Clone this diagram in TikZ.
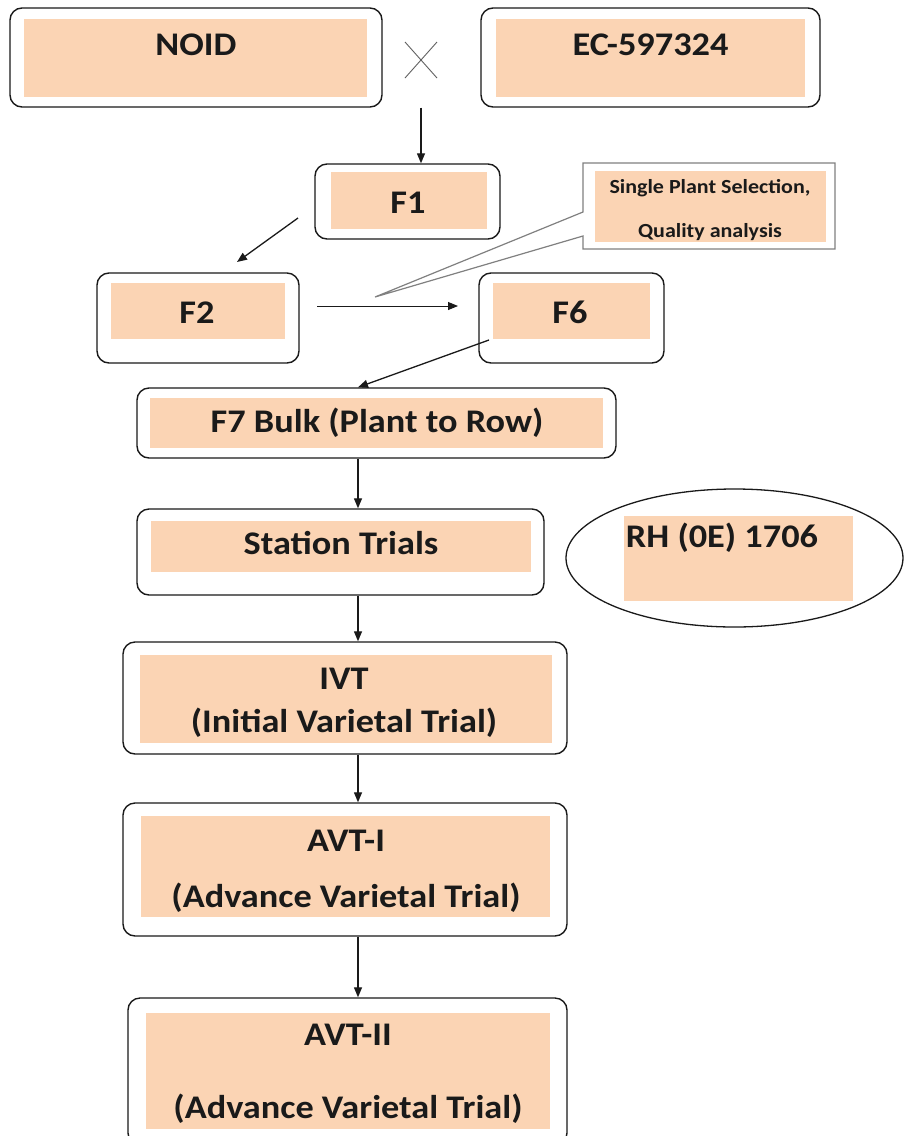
\documentclass[tikz,border=0pt]{standalone}
\usepackage{fontspec}
\setmainfont[FakeStretch=1.1]{Carlito}
\usetikzlibrary{arrows.meta,shapes.geometric}
\definecolor{peach}{HTML}{FBD4B4}
\definecolor{ink}{HTML}{1A1A1A}
\definecolor{callgray}{HTML}{808080}
\begin{document}
\begin{tikzpicture}[x=1pt,y=-1pt,
  outerbox/.style={draw=ink,line width=1.4pt,rounded corners=12pt,fill=white,inner sep=0pt},
  fillbox/.style={fill=peach,inner sep=0pt},
  lbl/.style={font=\bfseries\fontsize{33}{40}\selectfont,text=ink,inner sep=0pt,anchor=base},
  smalllbl/.style={font=\bfseries\fontsize{20}{24}\selectfont,text=ink,inner sep=0pt,anchor=base},
  arr/.style={draw=ink,line width=1.3pt,-{Triangle[length=10pt,width=8pt]}},
]
\fill[white] (0,0) rectangle (903,1136);
\useasboundingbox (0,0) rectangle (903,1136);

% parents
\node[outerbox,minimum width=372,minimum height=99] (noid) at (196,57.5) {};
\node[fillbox,minimum width=343,minimum height=78] (noidf) at (195.5,58) {};
\node[lbl] (noidt) at (196,55) {NOID};

\node[outerbox,minimum width=339,minimum height=99] (ec) at (650.5,57.5) {};
\node[fillbox,minimum width=309,minimum height=78] (ecf) at (650.5,58) {};
\node[lbl] (ect) at (650.5,55) {EC-597324};

% cross
\coordinate (cross) at (421,60);
\draw[ink!70,line width=0.9pt] (405,42) -- (437,78) (437,42) -- (405,78);

% F1
\node[outerbox,minimum width=185,minimum height=75] (f1) at (407.5,201.5) {};
\node[fillbox,minimum width=156,minimum height=57] (f1f) at (409,200.5) {};
\node[lbl] (f1t) at (408,213) {F1};

% F2
\node[outerbox,minimum width=202,minimum height=90] (f2) at (198,318) {};
\node[fillbox,minimum width=174,minimum height=56] (f2f) at (198,311) {};
\node[lbl] (f2t) at (197,323) {F2};

% F6
\node[outerbox,minimum width=185,minimum height=90] (f6) at (571.5,318) {};
\node[fillbox,minimum width=157,minimum height=56] (f6f) at (571.5,311) {};
\node[lbl] (f6t) at (570,323) {F6};

% callout
\coordinate (tip) at (375,297);
\filldraw[fill=white,draw=callgray,line width=1.2pt,line join=miter]
  (583,163) -- (835,163) -- (835,249) -- (583,249) -- (583,236) -- (tip) -- (583,212) -- cycle;
\node[fillbox,minimum width=231,minimum height=71] (callf) at (710.5,206.5) {};
\node[smalllbl] (callt1) at (710,193) {Single Plant Selection,};
\node[smalllbl] (callt2) at (710,237) {Quality analysis};

% F7
\node[outerbox,minimum width=479,minimum height=70] (f7) at (376.5,423) {};
\node[fillbox,minimum width=453,minimum height=50] (f7f) at (376.5,423) {};
\node[lbl] (f7t) at (377,432) {F7 Bulk (Plant to Row)};

% Station trials
\node[outerbox,minimum width=407,minimum height=86] (st) at (340.5,552) {};
\node[fillbox,minimum width=380,minimum height=51] (stf) at (341,546.5) {};
\node[lbl] (stt) at (341,554) {Station Trials};

% ellipse
\node[ellipse,draw=ink,line width=1.3pt,fill=white,minimum width=337,minimum height=138,inner sep=0pt] (rh) at (734.5,558) {};
\node[fillbox,minimum width=229,minimum height=85] (rhf) at (738.5,558.5) {};
\node[lbl] (rht) at (722,547) {RH (0E) 1706};

% IVT
\node[outerbox,minimum width=444,minimum height=112] (ivt) at (345,698) {};
\node[fillbox,minimum width=412,minimum height=88] (ivtf) at (346,699) {};
\node[lbl] (ivtt1) at (344,689) {IVT};
\node[lbl] (ivtt2) at (344,732) {(Initial Varietal Trial)};

% AVT-I
\node[outerbox,minimum width=444,minimum height=133] (avt1) at (345,869.5) {};
\node[fillbox,minimum width=409,minimum height=101] (avt1f) at (345.5,866.5) {};
\node[lbl] (avt1t1) at (346,851) {AVT-I};
\node[lbl] (avt1t2) at (346,907) {(Advance Varietal Trial)};

% AVT-II
\node[outerbox,minimum width=439,minimum height=147] (avt2) at (347.5,1071.5) {};
\node[fillbox,minimum width=404,minimum height=116] (avt2f) at (348,1071) {};
\node[lbl] (avt2t1) at (348,1045) {AVT-II};
\node[lbl] (avt2t2) at (348,1118) {(Advance Varietal Trial)};

% connectors
\coordinate (spine) at (358,0);
\draw[arr] (cross |- noid.south) -- (cross |- f1.north);
\coordinate (a1) at (298,218);
\coordinate (a2) at (237,262);
\draw[arr] (a1) -- (a2);
\coordinate (b1) at (317,306);
\coordinate (b2) at (458,306);
\draw[arr,line width=0.9pt] (b1) -- (b2);
\coordinate (s6) at (489,340);
\draw[arr] (s6) -- (f7.north -| spine);
\draw[arr] (spine |- f7.south) -- (spine |- st.north);
\draw[arr] (spine |- st.south) -- (spine |- ivt.north);
\draw[arr] (spine |- ivt.south) -- (spine |- avt1.north);
\draw[arr] (spine |- avt1.south) -- (spine |- avt2.north);
\end{tikzpicture}
\end{document}
